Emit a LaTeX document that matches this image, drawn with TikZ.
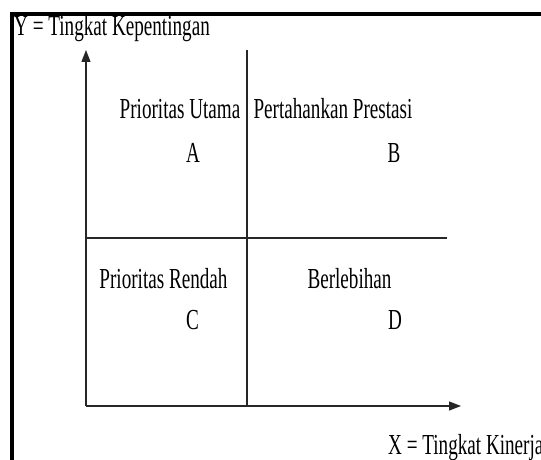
\documentclass[tikz,border=0pt]{standalone}
\usepackage{fontspec}
\setmainfont{Liberation Serif}
\newfontfamily\narrowtimes[FakeStretch=0.66]{Liberation Serif}
\usetikzlibrary{arrows.meta}
\tikzset{
  quadtext/.style={font=\narrowtimes\fontsize{29}{29}\selectfont,inner sep=0pt,anchor=base},
  axisline/.style={line width=1.3pt,draw=black!85,-{Triangle[length=12pt,width=9pt]}},
  divider/.style={line width=1.2pt,draw=black!85},
  frameline/.style={line width=4pt,line join=miter}
}
\begin{document}
\begin{tikzpicture}[x=1pt,y=-1pt]
  \useasboundingbox (0,0) rectangle (541,460);
  \draw[frameline] (12,470)--(12,14.5)--(551,14.5);
  \coordinate (origin) at (86,406);
  \coordinate (ytip) at (86,50);
  \coordinate (xtip) at (461,406);
  \coordinate (vtop) at (247,50);
  \coordinate (vbot) at (247,406);
  \coordinate (hleft) at (86,238);
  \coordinate (hright) at (447,238);
  \draw[divider] (vtop)--(vbot);
  \draw[divider] (hleft)--(hright);
  \draw[axisline] (origin)--(ytip);
  \draw[axisline] (origin)--(xtip);
  \node[quadtext,anchor=base west] (ylabel) at (14,36) {Y = Tingkat Kepentingan};
  \node[quadtext] (utama) at (180,118) {Prioritas Utama};
  \node[quadtext] (hurufA) at (193,162.5) {A};
  \node[quadtext] (prestasi) at (333,118) {Pertahankan Prestasi};
  \node[quadtext] (hurufB) at (394,162.5) {B};
  \node[quadtext] (rendah) at (163.5,288) {Prioritas Rendah};
  \node[quadtext] (hurufC) at (192.5,329) {C};
  \node[quadtext] (lebih) at (349.5,288) {Berlebihan};
  \node[quadtext] (hurufD) at (395,329) {D};
  \node[quadtext,anchor=base west] (xlabel) at (388,454) {X = Tingkat Kinerja};
\end{tikzpicture}
\end{document}
